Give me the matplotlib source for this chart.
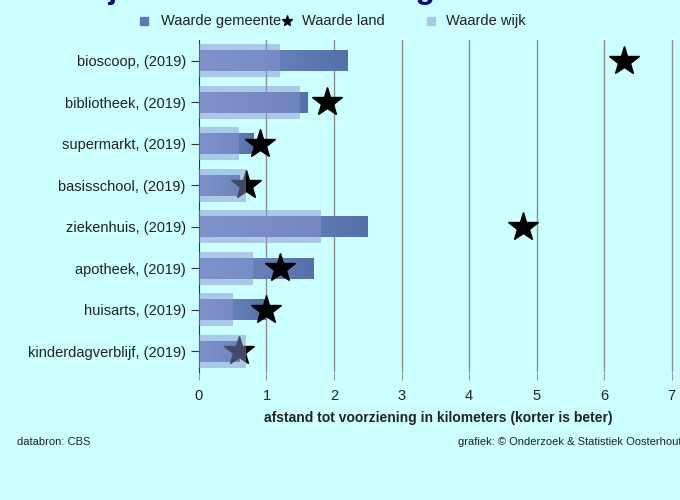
import numpy as np
import matplotlib.pyplot as plt
from matplotlib.colors import LinearSegmentedColormap
from matplotlib.lines import Line2D
from matplotlib.patches import Rectangle

plt.rcParams['font.family'] = ['Liberation Sans', 'DejaVu Sans']

categories = ['bioscoop, (2019)', 'bibliotheek, (2019)', 'supermarkt, (2019)',
              'basisschool, (2019)', 'ziekenhuis, (2019)', 'apotheek, (2019)',
              'huisarts, (2019)', 'kinderdagverblijf, (2019)']
gemeente = [2.2, 1.6, 0.8, 0.6, 2.5, 1.7, 1.0, 0.6]
land = [6.3, 1.9, 0.9, 0.7, 4.8, 1.2, 1.0, 0.6]
wijk = [1.2, 1.5, 0.6, 0.7, 1.8, 0.8, 0.5, 0.7]

bg = '#ccffff'
col_wijk = '#8795ce'
grad = LinearSegmentedColormap.from_list('gem', ['#7890cc', '#5570a8'])

fig = plt.figure(figsize=(6.8, 5), dpi=100, facecolor=bg)
ax = fig.add_axes([0.2926, 0.256, 0.705, 0.664], facecolor=bg)

y = np.arange(len(categories))

# gemeente: bars with a left-to-right gradient
bars = ax.barh(y, gemeente, height=0.5, color='#5f78b0', zorder=2)
for b in bars:
    im = ax.imshow(np.linspace(0, 1, 256).reshape(1, -1), cmap=grad, aspect='auto',
                   extent=[b.get_x(), b.get_x() + b.get_width(), b.get_y(), b.get_y() + b.get_height()],
                   zorder=2.5)
    im.set_clip_path(b)

ax.plot(land, y, linestyle='none', marker='*', markersize=22, color='black', zorder=3)
ax.barh(y, wijk, height=0.8, color=col_wijk, alpha=0.5, zorder=4)

ax.set_xlim(0, 7.1)
ax.set_ylim(7.5, -0.5)
ax.set_yticks(y)
ax.set_yticklabels(categories, fontsize=10.5, color='#222222')
ax.set_xticks(range(8))
ax.set_xticklabels([str(i) for i in range(8)], fontsize=10.5, color='#222222')
ax.tick_params(axis='y', length=6, color='#333333')
ax.tick_params(axis='x', length=6, color='#999999', pad=6)
for i in range(1, 8):
    ax.axvline(i, color='#8f8f8f', lw=1, zorder=0)
for s in ['top', 'right', 'bottom']:
    ax.spines[s].set_visible(False)
ax.spines['left'].set_color('#333333')

ax.set_xlabel('afstand tot voorziening in kilometers (korter is beter)',
              fontsize=10, fontweight='bold', color='#222222', labelpad=6)

# title (mostly outside the picture, only the descenders show)
fig.text(0.058, 1 - 5 / 500, 'Nabijheid van voorzieningen', fontsize=23,
         fontweight='bold', color='#000099', va='bottom', ha='left')

# legend
ly = 1 - 21 / 500
fig.add_artist(Rectangle((144 / 680 - 0.006, ly - 0.008), 0.012, 0.016,
                         transform=fig.transFigure, color='#5f78b0'))
fig.text(161 / 680, ly, 'Waarde gemeente', fontsize=10.5, va='center', color='#222222')
fig.add_artist(Line2D([287 / 680], [ly], marker='*', markersize=8, color='black',
                      linestyle='none', transform=fig.transFigure))
fig.text(302 / 680, ly, 'Waarde land', fontsize=10.5, va='center', color='#222222')
fig.add_artist(Rectangle((431 / 680 - 0.006, ly - 0.008), 0.012, 0.016,
                         transform=fig.transFigure, color='#a9c7e6'))
fig.text(446 / 680, ly, 'Waarde wijk', fontsize=10.5, va='center', color='#222222')

fig.text(17 / 680, 1 - 442 / 500, 'databron: CBS', fontsize=8, va='center', color='#222222')
fig.text(682 / 680, 1 - 442 / 500, 'grafiek: © Onderzoek & Statistiek Oosterhout',
         fontsize=8, va='center', ha='right', color='#222222')

fig.savefig('out.png', dpi=100, facecolor=bg)
